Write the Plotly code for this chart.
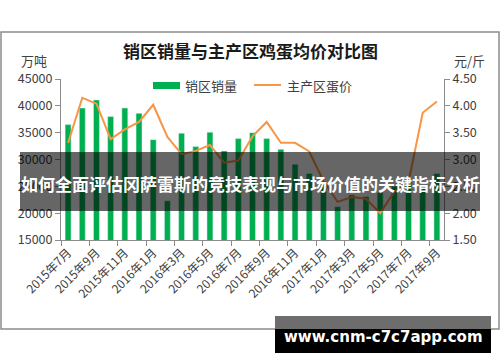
import plotly.graph_objects as go

# ---- data ----
months = ["2015年7月", "2015年8月", "2015年9月", "2015年10月", "2015年11月", "2015年12月",
          "2016年1月", "2016年2月", "2016年3月", "2016年4月", "2016年5月", "2016年6月",
          "2016年7月", "2016年8月", "2016年9月", "2016年10月", "2016年11月", "2016年12月",
          "2017年1月", "2017年2月", "2017年3月", "2017年4月", "2017年5月", "2017年6月",
          "2017年7月", "2017年8月", "2017年9月"]
sales = [36500, 39600, 41100, 38000, 39600, 38600, 33700, 22300, 34900, 32400, 35100, 31600,
         33900, 35000, 33900, 31900, 29100, 27400, 25600, 21200, 23400, 23100, 23800, 25000,
         25800, 25000, 27400]
prices = [3.31, 4.15, 4.04, 3.38, 3.56, 3.70, 4.02, 3.42, 3.10, 3.16, 3.27, 2.94,
          2.98, 3.43, 3.70, 3.31, 3.31, 3.15, 2.60, 2.21, 2.30, 2.27, 2.00, 2.40,
          2.58, 3.87, 4.08]
bar_name = "销区销量"
line_name = "主产区蛋价"
title = "销区销量与主产区鸡蛋均价对比图"
left_unit = "万吨"
right_unit = "元/斤"
banner = "如何全面评估冈萨雷斯的竞技表现与市场价值的关键指标分析"
watermark = "www.cnm-c7c7app.com"

W, H = 500, 362
L, R, T, B = 61, 56, 79, 122
PW, PH = W - L - R, H - T - B

def px(x):
    return (x - L) / PW

def py(y):
    return (H - B - y) / PH

FONT = "Noto Sans CJK SC"
GREEN = "#00B050"
ORANGE = "#F79646"
AX = "#8c8c8c"
TXT = "#404040"

xs = list(range(len(months)))

fig = go.Figure()
fig.add_trace(go.Bar(x=xs, y=sales, name=bar_name, marker_color=GREEN, width=0.42,
                     showlegend=False))
fig.add_trace(go.Scatter(x=xs, y=prices, name=line_name, yaxis="y2", mode="lines",
                         line=dict(color=ORANGE, width=2), showlegend=False))

fig.update_layout(
    width=W, height=H,
    margin=dict(l=L, r=R, t=T, b=B, pad=0),
    paper_bgcolor="white", plot_bgcolor="white",
    font=dict(family=FONT, size=12, color=TXT),
    xaxis=dict(range=[-0.5, len(months) - 0.5], tickmode="array",
               tickvals=xs[::2], ticktext=months[::2], tickangle=-45,
               ticks="", showline=True, linecolor=AX, linewidth=1, showgrid=False,
               zeroline=False, tickfont=dict(size=12, color=TXT),
               minor=dict(tickmode="array", tickvals=[v - 0.5 for v in xs[::2]],
                          ticks="outside", ticklen=5, tickcolor=AX, showgrid=False)),
    yaxis=dict(range=[15000, 45000], dtick=5000, tickformat="d", ticks="outside", ticklen=5,
               tickcolor=AX, showline=True, linecolor=AX, showgrid=False,
               zeroline=False, tickfont=dict(size=12.5, color=TXT)),
    yaxis2=dict(range=[1.5, 4.5], dtick=0.5, tickformat=".2f", overlaying="y",
                side="right", ticks="outside", ticklen=5, tickcolor=AX,
                showline=True, linecolor=AX, showgrid=False, zeroline=False,
                tickfont=dict(size=12.5, color=TXT)),
    bargap=0.58,
)

shapes = [
    # chart frame
    dict(type="rect", xref="paper", yref="paper", x0=px(1), x1=px(499), y0=py(32), y1=py(329),
         line=dict(color=AX, width=1.5), fillcolor="rgba(0,0,0,0)", layer="below"),
    # legend symbols
    dict(type="rect", xref="paper", yref="paper", x0=px(153), x1=px(180), y0=py(82), y1=py(89),
         line=dict(width=0), fillcolor=GREEN),
    dict(type="line", xref="paper", yref="paper", x0=px(254), x1=px(281), y0=py(85), y1=py(85),
         line=dict(color=ORANGE, width=2)),
    # banner overlay
    dict(type="rect", xref="paper", yref="paper", x0=px(20), x1=px(480), y0=py(152), y1=py(211),
         line=dict(width=0), fillcolor="rgba(0,0,0,0.6)"),
    # watermark boxes
    dict(type="rect", xref="paper", yref="paper", x0=px(275), x1=px(491), y0=py(316), y1=py(329),
         line=dict(width=0), fillcolor="#6d6d6d"),
    dict(type="rect", xref="paper", yref="paper", x0=px(275), x1=px(491), y0=py(329), y1=py(353),
         line=dict(width=0), fillcolor="black"),
]

annotations = [
    dict(text=f"<b>{title}</b>", x=px(250), y=py(50), font=dict(size=17, color="#1a1a1a")),
    dict(text=left_unit, x=px(34), y=py(60), font=dict(size=13, color=TXT)),
    dict(text=right_unit, x=px(469), y=py(60), font=dict(size=13, color=TXT)),
    dict(text=bar_name, x=px(183), y=py(85), xanchor="left", font=dict(size=13, color=TXT)),
    dict(text=line_name, x=px(285), y=py(85), xanchor="left", font=dict(size=13, color=TXT)),
    dict(text=f"<b>{banner}</b>", x=px(250), y=py(183), font=dict(size=17, color="white")),
    dict(text=f"<b>{watermark}</b>", x=px(383), y=py(337),
         font=dict(family="DejaVu Sans", size=15, color="white")),
]
for a in annotations:
    a.setdefault("xanchor", "center")
    a.update(xref="paper", yref="paper", yanchor="middle", showarrow=False)

fig.update_layout(shapes=shapes, annotations=annotations)
fig.write_html("out.html", config={"displayModeBar": False},
               post_script="document.body.style.margin='0';")
